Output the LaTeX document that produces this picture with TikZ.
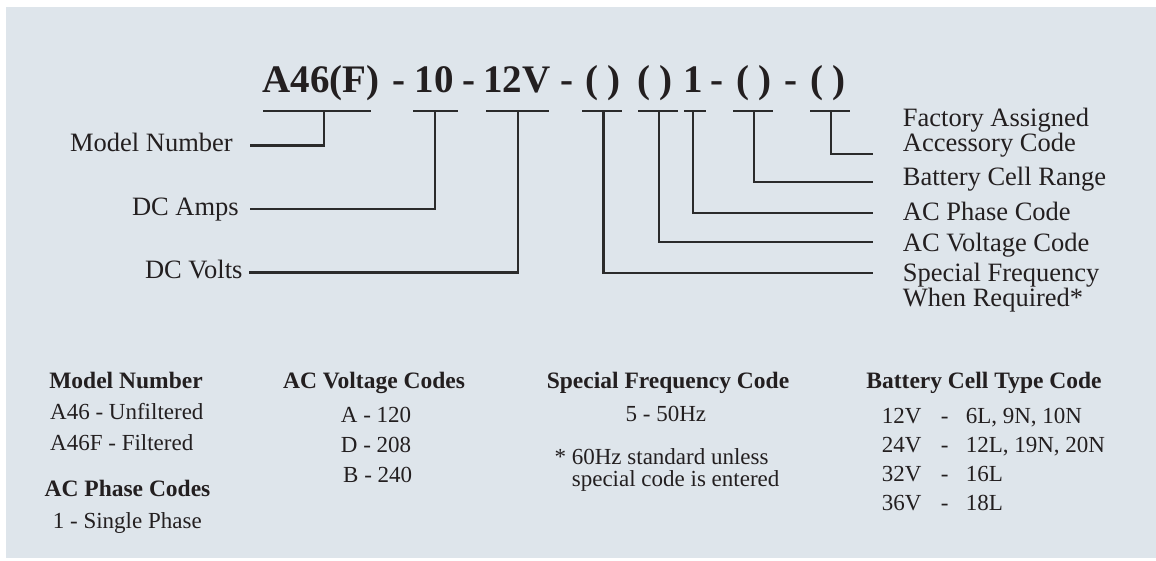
\documentclass[tikz,border=0pt]{standalone}
\usepackage{fontspec}
\setmainfont{Liberation Serif}
\definecolor{panel}{HTML}{DEE5EB}
\definecolor{ink}{HTML}{231F20}
\definecolor{wirec}{HTML}{2B2B2B}
\newcommand\tightlines{\lineskiplimit=-30pt\relax}
\begin{document}
\begin{tikzpicture}[x=1pt,y=-1pt,
  wire/.style={draw=wirec,line width=2.2pt},
  titletext/.style={font=\fontsize{39}{42}\selectfont\bfseries,text=ink,inner sep=0pt,anchor=base},
  lbl/.style={font=\fontsize{26.5}{21.7}\selectfont,text=ink,inner sep=0pt},
  head/.style={font=\fontsize{23.5}{28}\selectfont\bfseries,text=ink,inner sep=0pt,anchor=base},
  body/.style={font=\fontsize{23}{22.7}\selectfont,text=ink,inner sep=0pt,anchor=base west,align=left},
]
\useasboundingbox (0,0) rectangle (1156,560);
\fill[white] (0,0) rectangle (1156,560);
\fill[panel] (6,7) rectangle (1156,558);

% title pieces
\node[titletext] (t1) at (321,92.5) {A46(F)};
\node[titletext] (d1) at (399,92.5) {-};
\node[titletext] (t2) at (434,92.5) {10};
\node[titletext] (d2) at (469,92.5) {-};
\node[titletext] (t3) at (517,92.5) {12V};
\node[titletext] (d3) at (567,92.5) {-};
\node[titletext] (t4) at (603,92.5) {( )};
\node[titletext] (t5) at (655,92.5) {( )};
\node[titletext] (t6) at (693,92.5) {1};
\node[titletext] (d4) at (717,92.5) {-};
\node[titletext] (t7) at (754,92.5) {( )};
\node[titletext] (d5) at (791,92.5) {-};
\node[titletext] (t8) at (828,92.5) {( )};

% bars under the title
\draw[wire] (263,110.7) -- (371,110.7);
\draw[wire] (413,110.7) -- (458,110.7);
\draw[wire] (486,110.7) -- (549,110.7);
\draw[wire] (582,110.7) -- (622,110.7);
\draw[wire] (638,110.7) -- (678,110.7);
\draw[wire] (684,110.7) -- (705.7,110.7);
\draw[wire] (733,110.7) -- (773,110.7);
\draw[wire] (810,110.7) -- (850,110.7);

\coordinate (s1) at (324,110.7);
\coordinate (s2) at (435.3,110.7);
\coordinate (s3) at (517.7,110.7);
\coordinate (s4) at (603.5,110.7);
\coordinate (s5) at (659.3,110.7);
\coordinate (s6) at (693.3,110.7);
\coordinate (s7) at (754.3,110.7);
\coordinate (s8) at (830.7,110.7);

% left labels
\node[lbl,anchor=base east] (lm) at (233,151.7) {Model Number};
\node[lbl,anchor=base east] (la) at (239,215) {DC Amps};
\node[lbl,anchor=base east] (lv) at (242.7,278) {DC Volts};
\coordinate (e1) at (250,145.5);
\coordinate (e2) at (250,209);
\coordinate (e3) at (249,272.5);
\draw[wire] (s1) |- (e1);
\draw[wire] (s2) |- (e2);
\draw[wire] (s3) |- (e3);

% right labels
\node[lbl,anchor=base west,align=left] (rf) at (902.7,151.7) {\tightlines Factory Assigned\\Accessory Code};
\node[lbl,anchor=base west] (rb) at (902.7,185.5) {Battery Cell Range};
\node[lbl,anchor=base west] (rp) at (902.7,220.7) {AC Phase Code};
\node[lbl,anchor=base west] (rv) at (902.7,251.7) {AC Voltage Code};
\node[lbl,anchor=base west,align=left] (rs) at (902.7,306.7) {\tightlines Special Frequency\\When Required*};
\coordinate (f8) at (872.5,154);
\coordinate (f7) at (872.5,182);
\coordinate (f6) at (872.5,212.7);
\coordinate (f5) at (872.5,241.7);
\coordinate (f4) at (872.5,272.7);
\draw[wire] (s8) |- (f8);
\draw[wire] (s7) |- (f7);
\draw[wire] (s6) |- (f6);
\draw[wire] (s5) |- (f5);
\draw[wire] (s4) |- (f4);

% bottom tables
\node[head] (h1) at (126,388) {Model Number};
\node[body] (m1) at (50,419.3) {A46 - Unfiltered};
\node[body] (m2) at (50,450) {A46F - Filtered};
\node[head] (h2) at (127.5,496.7) {AC Phase Codes};
\node[body] (p1) at (52.7,528.3) {1 - Single Phase};

\node[head] (h3) at (374,388) {AC Voltage Codes};
\node[body] (v1) at (340.7,422.7) {A - 120};
\node[body] (v2) at (340.7,452.7) {D - 208};
\node[body] (v3) at (343,482.3) {B - 240};

\node[head] (h4) at (668,388) {Special Frequency Code};
\node[body] (q1) at (625.5,421.7) {5 - 50Hz};
\node[body] (q2) at (554.4,486.7) {\tightlines * 60Hz standard unless\\\hphantom{* }special code is entered};

\node[head] (h5) at (984,388) {Battery Cell Type Code};
\node[body] (c1) at (881.6,423.3) {\makebox[59pt][l]{12V}\makebox[25pt][l]{-}6L, 9N, 10N};
\node[body] (c2) at (881.6,452.7) {\makebox[59pt][l]{24V}\makebox[25pt][l]{-}12L, 19N, 20N};
\node[body] (c3) at (881.6,481.7) {\makebox[59pt][l]{32V}\makebox[25pt][l]{-}16L};
\node[body] (c4) at (881.6,510.7) {\makebox[59pt][l]{36V}\makebox[25pt][l]{-}18L};
\end{tikzpicture}
\end{document}
